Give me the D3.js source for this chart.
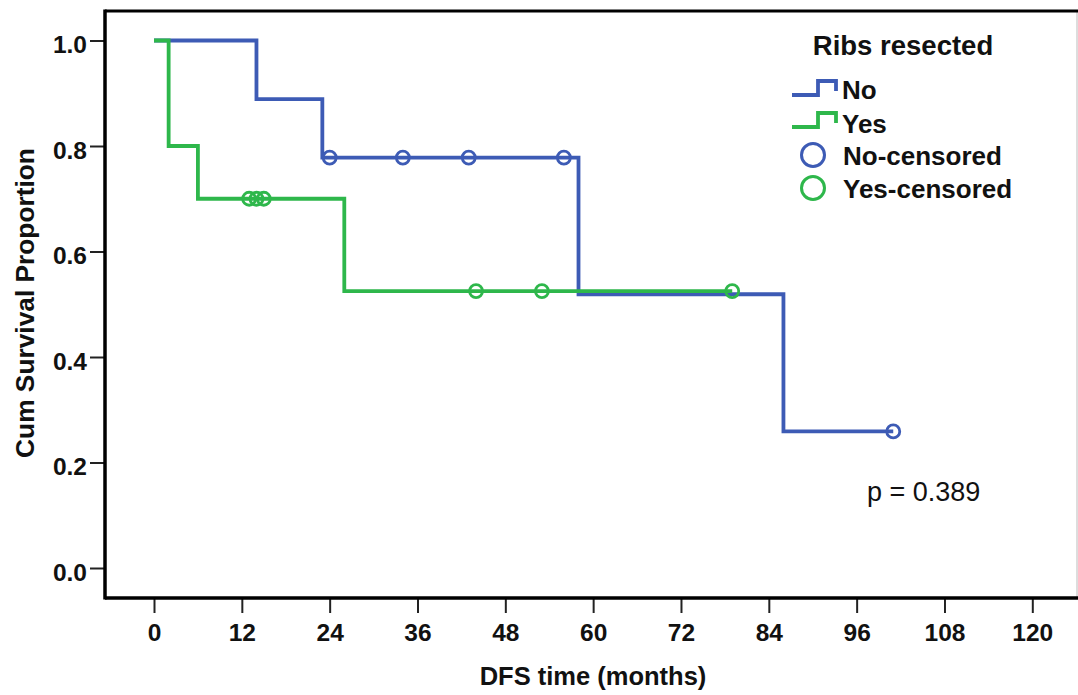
<!DOCTYPE html>
<html>
<head>
<meta charset="utf-8">
<script src="https://cdn.jsdelivr.net/npm/d3@7"></script>
<style>
  html, body { margin: 0; padding: 0; background: #ffffff; }
  svg { display: block; }
  text { font-family: "Liberation Sans", Arial, sans-serif; fill: #111; }
</style>
</head>
<body>
<svg id="chart" width="1078" height="695"></svg>
<script>
// ---- data ----
const noTimes = [0, 14, 23, 58, 86, 101];
const noSurv  = [1.0, 0.889, 0.778, 0.519, 0.259, 0.259];
const yesTimes = [0, 2, 6, 26, 79];
const yesSurv  = [1.0, 0.8, 0.7, 0.525, 0.525];
const noCensTimes = [24, 34, 43, 56, 101];
const noCensSurv  = [0.778, 0.778, 0.778, 0.778, 0.259];
const yesCensTimes = [13, 14, 15, 44, 53, 79];
const yesCensSurv  = [0.7, 0.7, 0.7, 0.525, 0.525, 0.525];
const xTicks = [0, 12, 24, 36, 48, 60, 72, 84, 96, 108, 120];
const yTicks = [0.0, 0.2, 0.4, 0.6, 0.8, 1.0];
const legendLabels = ["No", "Yes", "No-censored", "Yes-censored"];
const legendTitle = "Ribs resected";
const pText = "p = 0.389";
const xTitle = "DFS time (months)";
const yTitle = "Cum Survival Proportion";

const BLUE = "#3d5bb5", GREEN = "#2eb74b";

const svg = d3.select("#chart");
const x = d3.scaleLinear().domain([0, 120]).range([154, 1032.3]);
const y = d3.scaleLinear().domain([0, 1]).range([568, 40.5]);

const axisLeftX = 105, axisBottomY = 598, topY = 11, rightX = 1077;

// frame
svg.append("line").attr("x1", rightX).attr("x2", rightX).attr("y1", topY).attr("y2", axisBottomY)
  .attr("stroke", "#bbb").attr("stroke-width", 1);
svg.append("line").attr("x1", axisLeftX).attr("x2", 1078).attr("y1", topY).attr("y2", topY)
  .attr("stroke", "#000").attr("stroke-width", 3);

// y axis
const gy = svg.append("g").attr("transform", `translate(${axisLeftX},0)`)
  .call(d3.axisLeft(y).tickValues(yTicks).tickFormat(d3.format(".1f")).tickSize(15).tickPadding(3));
gy.select(".domain").remove();
gy.selectAll(".tick line").attr("stroke", "#222").attr("stroke-width", 2);
gy.selectAll(".tick text").attr("font-size", 24.5).attr("font-weight", "bold")
  .attr("dy", "0.5em").attr("fill", "#111").style("font-family", "Liberation Sans, Arial, sans-serif");

// x axis
const gx = svg.append("g").attr("transform", `translate(0,${axisBottomY})`)
  .call(d3.axisBottom(x).tickValues(xTicks).tickFormat(d3.format("d")).tickSize(15).tickPadding(3));
gx.select(".domain").remove();
gx.selectAll(".tick line").attr("stroke", "#222").attr("stroke-width", 2);
gx.selectAll(".tick text").attr("font-size", 24.5).attr("font-weight", "bold")
  .attr("y", 43).attr("dy", 0).attr("fill", "#111").style("font-family", "Liberation Sans, Arial, sans-serif");

// axis lines
svg.append("line").attr("x1", axisLeftX).attr("x2", axisLeftX).attr("y1", topY - 1.5).attr("y2", axisBottomY + 1.5)
  .attr("stroke", "#000").attr("stroke-width", 3.5);
svg.append("line").attr("x1", axisLeftX).attr("x2", 1078).attr("y1", axisBottomY).attr("y2", axisBottomY)
  .attr("stroke", "#000").attr("stroke-width", 3.5);

// axis titles
svg.append("text").attr("x", 593).attr("y", 685).attr("text-anchor", "middle")
  .attr("font-size", 25.5).attr("font-weight", "bold").text(xTitle);
svg.append("text").attr("transform", "translate(34,303) rotate(-90)").attr("text-anchor", "middle")
  .attr("font-size", 26.3).attr("font-weight", "bold").text(yTitle);

// curves
const line = d3.line().x(d => x(d[0])).y(d => y(d[1])).curve(d3.curveStepAfter);
const noPts = noTimes.map((t, i) => [t, noSurv[i]]);
const yesPts = yesTimes.map((t, i) => [t, yesSurv[i]]);

svg.append("path").datum(noPts).attr("d", line).attr("fill", "none")
  .attr("stroke", BLUE).attr("stroke-width", 3.8);
svg.selectAll(".cNo").data(noCensTimes.map((t, i) => [t, noCensSurv[i]])).join("circle")
  .attr("class", "cNo").attr("cx", d => x(d[0])).attr("cy", d => y(d[1])).attr("r", 6.5)
  .attr("fill", "none").attr("stroke", BLUE).attr("stroke-width", 2.8);

svg.append("path").datum(yesPts).attr("d", line).attr("fill", "none")
  .attr("stroke", GREEN).attr("stroke-width", 3.8);
svg.selectAll(".cYes").data(yesCensTimes.map((t, i) => [t, yesCensSurv[i]])).join("circle")
  .attr("class", "cYes").attr("cx", d => x(d[0])).attr("cy", d => y(d[1])).attr("r", 6.5)
  .attr("fill", "none").attr("stroke", GREEN).attr("stroke-width", 2.8);

// legend
svg.append("text").attr("x", 903).attr("y", 55).attr("text-anchor", "middle")
  .attr("font-size", 27.5).attr("font-weight", "bold").text(legendTitle);

const legColors = [BLUE, GREEN, BLUE, GREEN];
const rowY = [95, 127, 155, 188];
legendLabels.forEach((lab, i) => {
  const yy = rowY[i];
  if (i < 2) {
    svg.append("path")
      .attr("d", `M792,${yy} H818 V${yy - 14} H836 V${yy - 4}`)
      .attr("fill", "none").attr("stroke", legColors[i]).attr("stroke-width", 3.8);
    svg.append("text").attr("x", 842).attr("y", yy + 4 + (i === 1 ? 2 : 0))
      .attr("font-size", 26).attr("font-weight", "bold").text(lab);
  } else {
    svg.append("circle").attr("cx", 813).attr("cy", yy).attr("r", 11.5)
      .attr("fill", "none").attr("stroke", legColors[i]).attr("stroke-width", 3);
    svg.append("text").attr("x", 843).attr("y", yy + 10)
      .attr("font-size", 26).attr("font-weight", "bold").text(lab);
  }
});

// p-value
svg.append("text").attr("x", 867).attr("y", 501)
  .attr("font-size", 27).attr("font-weight", "normal").text(pText);
</script>
</body>
</html>
